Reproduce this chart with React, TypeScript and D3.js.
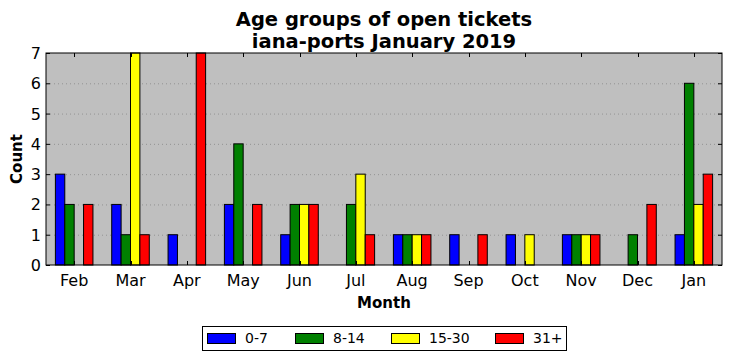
import React, { useEffect, useRef } from "react";
import * as d3 from "d3";

const months = ["Feb", "Mar", "Apr", "May", "Jun", "Jul", "Aug", "Sep", "Oct", "Nov", "Dec", "Jan"];
const groups = ["0-7", "8-14", "15-30", "31+"];
const colors = ["#0000ff", "#008000", "#ffff00", "#ff0000"];
const age0to7 = [3, 2, 1, 2, 1, 0, 1, 1, 1, 1, 0, 1];
const age8to14 = [2, 1, 0, 4, 2, 2, 1, 0, 0, 1, 1, 6];
const age15to30 = [0, 7, 0, 0, 2, 3, 1, 0, 1, 1, 0, 2];
const age31plus = [2, 1, 7, 2, 2, 1, 1, 1, 0, 1, 2, 3];
const yTicks = [0, 1, 2, 3, 4, 5, 6, 7];

const App: React.FC = () => {
  const svgRef = useRef<SVGSVGElement | null>(null);

  useEffect(() => {
    const width = 732;
    const height = 361;
    const margin = { top: 53, right: 10, bottom: 96, left: 46 };
    const font = "'DejaVu Sans', sans-serif";

    const svg = d3.select(svgRef.current);
    svg.selectAll("*").remove();

    const series = [age0to7, age8to14, age15to30, age31plus];
    const data = months.flatMap((m, i) =>
      groups.map((g, j) => ({ month: m, group: g, value: series[j][i], color: colors[j] }))
    );

    const x = d3
      .scaleBand()
      .domain(months)
      .range([margin.left, width - margin.right]);
    const step = x.bandwidth();
    const groupW = (step * 4) / 6;
    const xInner = d3
      .scaleBand()
      .domain(groups)
      .range([(step - groupW) / 2, (step + groupW) / 2]);

    const y = d3
      .scaleLinear()
      .domain([0, 7])
      .range([height - margin.bottom, margin.top]);

    const left = margin.left;
    const right = width - margin.right;
    const top = margin.top;
    const bottom = height - margin.bottom;

    // plot background
    svg
      .append("rect")
      .attr("x", left)
      .attr("y", top)
      .attr("width", right - left)
      .attr("height", bottom - top)
      .attr("fill", "#bfbfbf");

    // dotted grid
    svg
      .append("g")
      .selectAll("line")
      .data(yTicks.slice(1, -1))
      .enter()
      .append("line")
      .attr("x1", left)
      .attr("x2", right)
      .attr("y1", (d) => y(d) + 0.5)
      .attr("y2", (d) => y(d) + 0.5)
      .attr("stroke", "#888")
      .attr("stroke-width", 0.8)
      .attr("stroke-dasharray", "1,3");

    // bars
    svg
      .append("g")
      .selectAll("rect")
      .data(data.filter((d) => d.value > 0))
      .enter()
      .append("rect")
      .attr("x", (d) => x(d.month)! + xInner(d.group)!)
      .attr("y", (d) => y(d.value))
      .attr("width", xInner.bandwidth())
      .attr("height", (d) => bottom - y(d.value))
      .attr("fill", (d) => d.color)
      .attr("stroke", "#000")
      .attr("stroke-width", 1);

    // inward ticks
    const ticks = svg.append("g").attr("stroke", "#000").attr("stroke-width", 1);
    months.forEach((m) => {
      const cx = Math.round(x(m)! + step / 2) + 0.5;
      ticks.append("line").attr("x1", cx).attr("x2", cx).attr("y1", bottom).attr("y2", bottom - 4);
      ticks.append("line").attr("x1", cx).attr("x2", cx).attr("y1", top).attr("y2", top + 4);
    });
    yTicks.forEach((t) => {
      const cy = y(t) + 0.5;
      ticks.append("line").attr("x1", left).attr("x2", left + 4).attr("y1", cy).attr("y2", cy);
      ticks.append("line").attr("x1", right).attr("x2", right - 4).attr("y1", cy).attr("y2", cy);
    });

    // frame
    svg
      .append("rect")
      .attr("x", left)
      .attr("y", top)
      .attr("width", right - left)
      .attr("height", bottom - top)
      .attr("fill", "none")
      .attr("stroke", "#000")
      .attr("stroke-width", 1);

    // tick labels
    svg
      .append("g")
      .selectAll("text")
      .data(months)
      .enter()
      .append("text")
      .attr("x", (d) => x(d)! + step / 2)
      .attr("y", bottom + 21)
      .attr("text-anchor", "middle")
      .style("font-family", font)
      .style("font-size", "16px")
      .text((d) => d);

    svg
      .append("g")
      .selectAll("text")
      .data(yTicks)
      .enter()
      .append("text")
      .attr("x", left - 5)
      .attr("y", (d) => y(d) + 6)
      .attr("text-anchor", "end")
      .style("font-family", font)
      .style("font-size", "16px")
      .text((d) => d);

    // titles
    const cx = (left + right) / 2;
    svg
      .append("text")
      .attr("x", cx)
      .attr("y", 26)
      .attr("text-anchor", "middle")
      .style("font-family", font)
      .style("font-size", "19.5px")
      .style("font-weight", "bold")
      .text("Age groups of open tickets");
    svg
      .append("text")
      .attr("x", cx)
      .attr("y", 48)
      .attr("text-anchor", "middle")
      .style("font-family", font)
      .style("font-size", "19.5px")
      .style("font-weight", "bold")
      .text("iana-ports January 2019");

    svg
      .append("text")
      .attr("x", cx)
      .attr("y", 308)
      .attr("text-anchor", "middle")
      .style("font-family", font)
      .style("font-size", "15px")
      .style("font-weight", "bold")
      .text("Month");

    svg
      .append("text")
      .attr("transform", `translate(22, ${(top + bottom) / 2}) rotate(-90)`)
      .attr("text-anchor", "middle")
      .style("font-family", font)
      .style("font-size", "15px")
      .style("font-weight", "bold")
      .text("Count");

    // legend
    const legend = svg.append("g");
    legend
      .append("rect")
      .attr("x", 202.5)
      .attr("y", 326.5)
      .attr("width", 364)
      .attr("height", 24)
      .attr("fill", "#fff")
      .attr("stroke", "#000");
    const legendX = [207, 295, 391, 495];
    groups.forEach((g, i) => {
      legend
        .append("rect")
        .attr("x", legendX[i] + 0.5)
        .attr("y", 333.5)
        .attr("width", 28)
        .attr("height", 10)
        .attr("fill", colors[i])
        .attr("stroke", "#000");
      legend
        .append("text")
        .attr("x", legendX[i] + 38)
        .attr("y", 343)
        .style("font-family", font)
        .style("font-size", "14px")
        .text(g);
    });
  }, []);

  return (
    <svg
      ref={svgRef}
      width={732}
      height={361}
      style={{ position: "absolute", left: 0, top: 0, background: "#fff" }}
    ></svg>
  );
};

export default App;
